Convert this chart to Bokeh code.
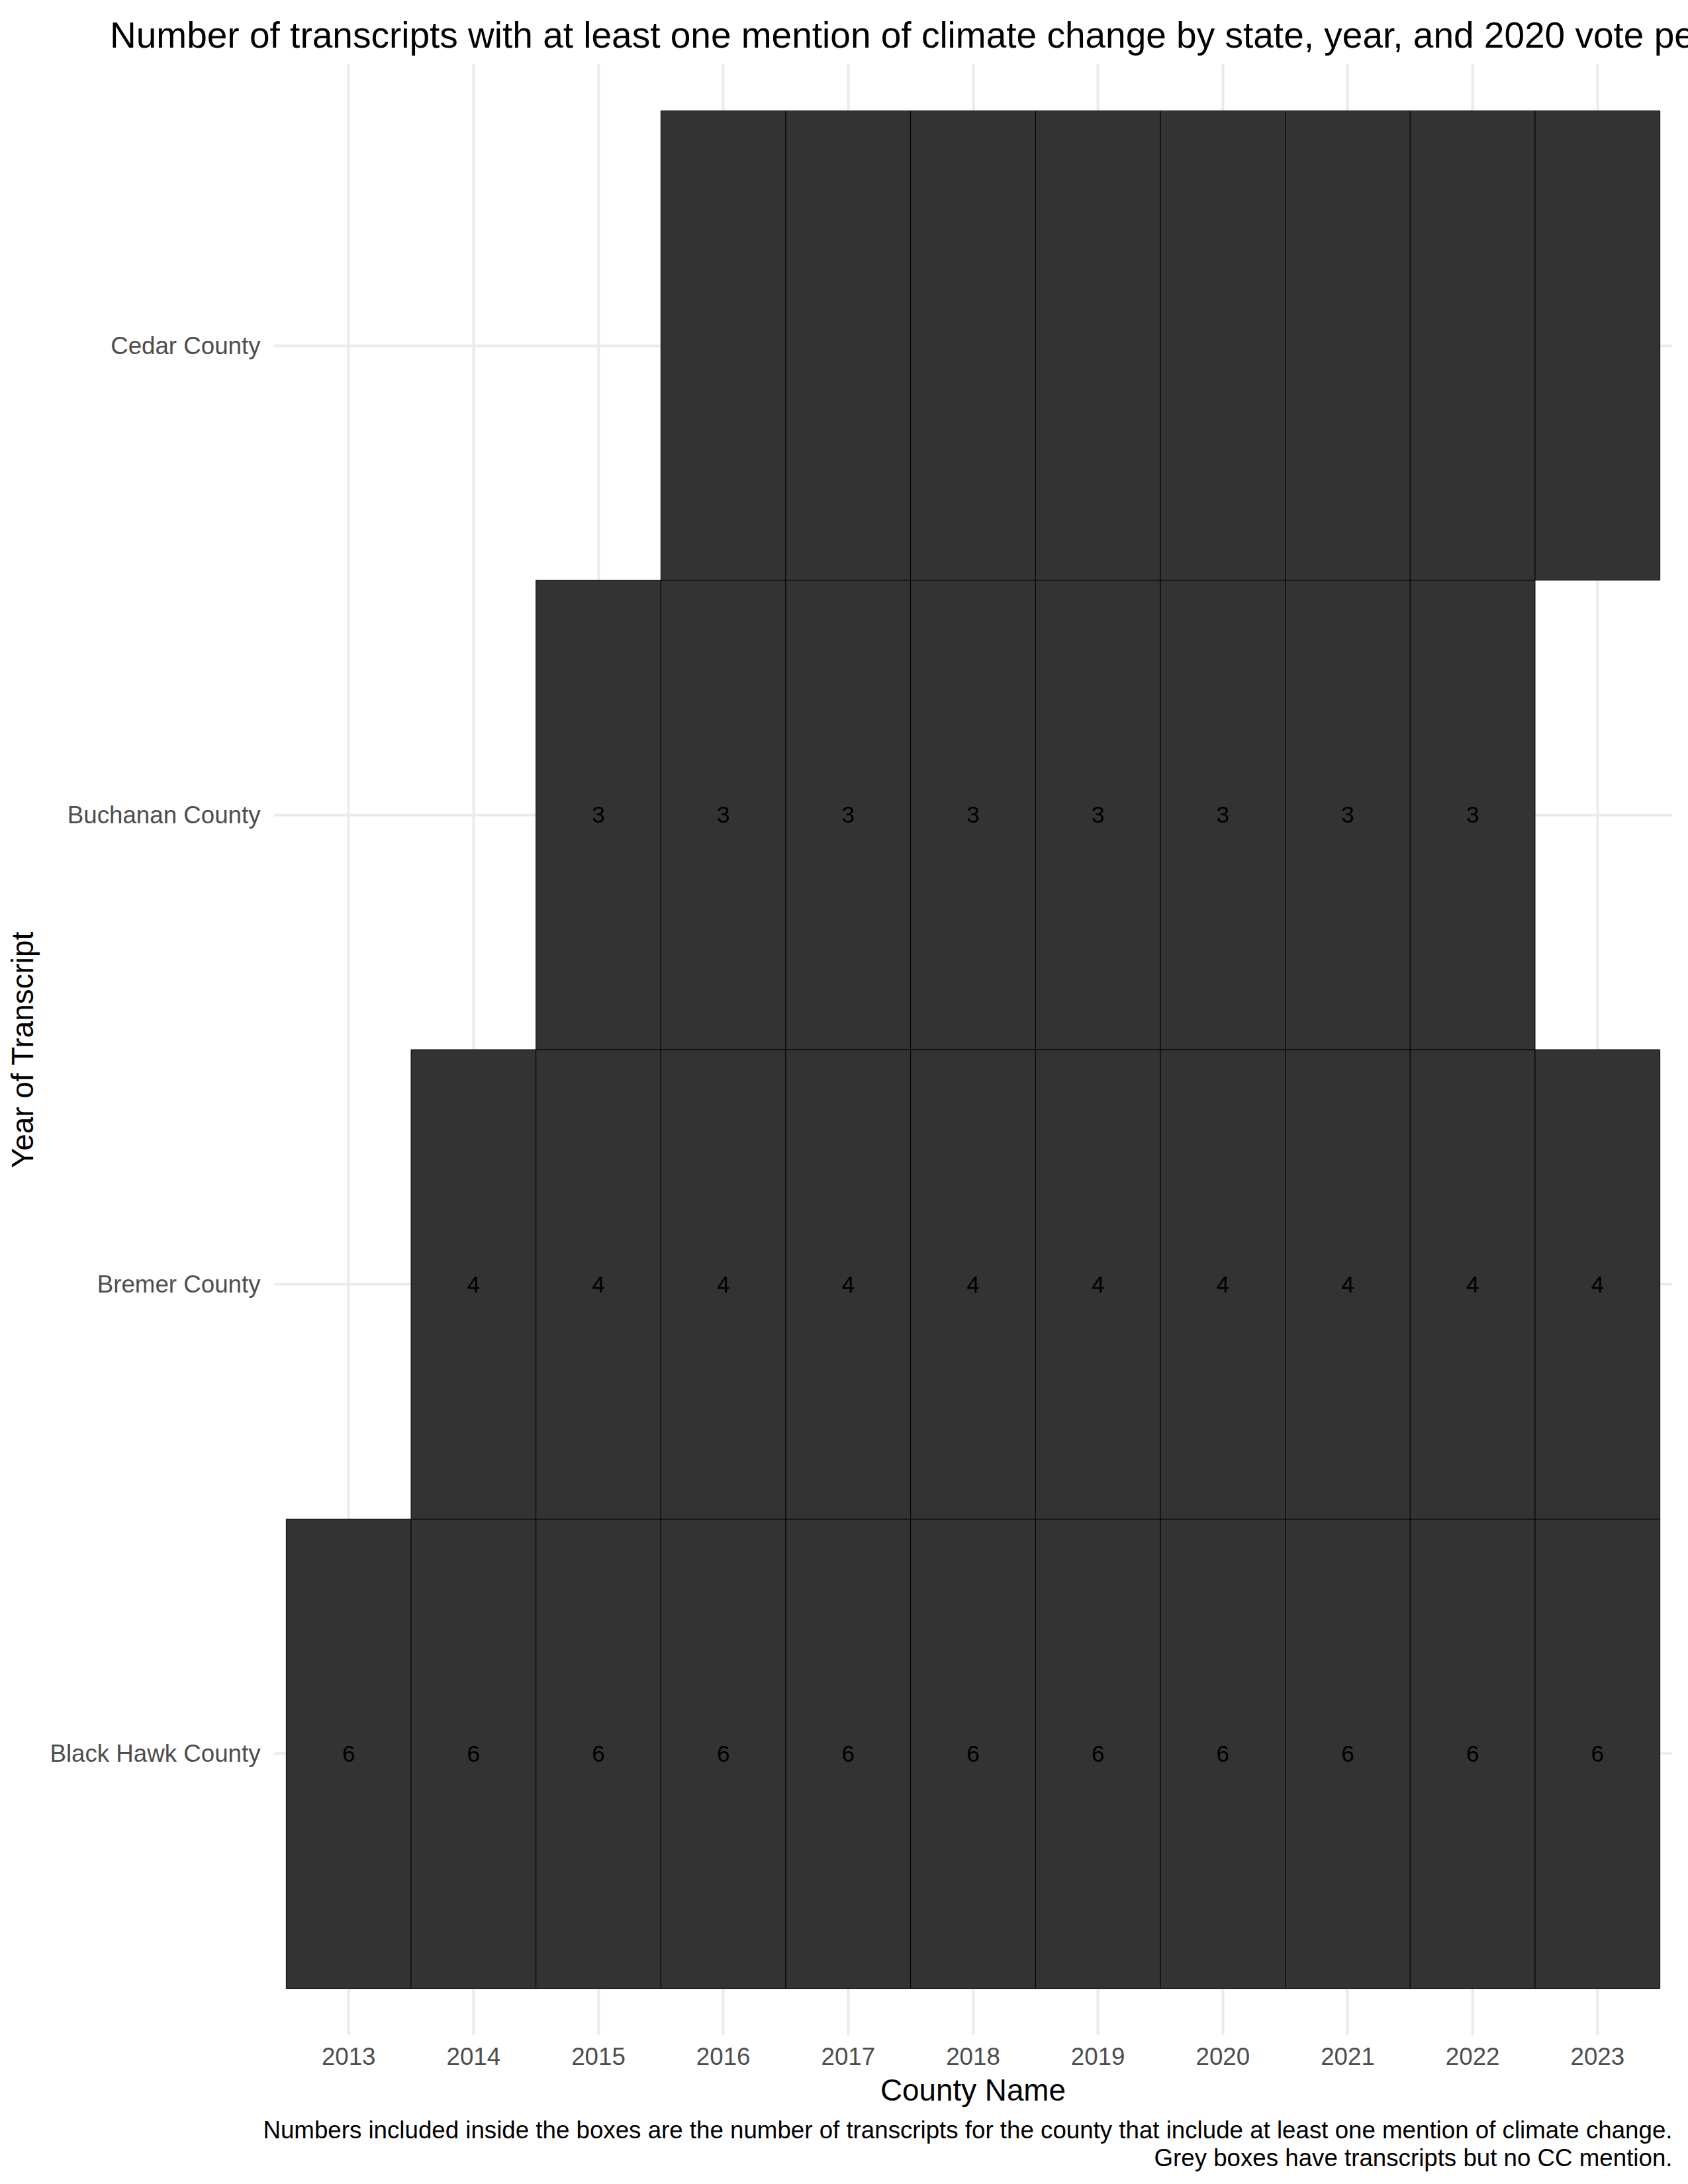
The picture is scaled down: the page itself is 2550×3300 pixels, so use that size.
from bokeh.plotting import figure
from bokeh.models import Range1d, FactorRange, FixedTicker, ColumnDataSource, Title
from bokeh.core.properties import value
from bokeh.embed import file_html
from bokeh.resources import INLINE

# ---- data ----
counties = ["Black Hawk County", "Bremer County", "Buchanan County", "Cedar County"]
years = [2013, 2014, 2015, 2016, 2017, 2018, 2019, 2020, 2021, 2022, 2023]

black_hawk_years = [2013, 2014, 2015, 2016, 2017, 2018, 2019, 2020, 2021, 2022, 2023]
black_hawk_counts = [6, 6, 6, 6, 6, 6, 6, 6, 6, 6, 6]

bremer_years = [2014, 2015, 2016, 2017, 2018, 2019, 2020, 2021, 2022, 2023]
bremer_counts = [4, 4, 4, 4, 4, 4, 4, 4, 4, 4]

buchanan_years = [2015, 2016, 2017, 2018, 2019, 2020, 2021, 2022]
buchanan_counts = [3, 3, 3, 3, 3, 3, 3, 3]

cedar_years = [2016, 2017, 2018, 2019, 2020, 2021, 2022, 2023]
cedar_counts = [None, None, None, None, None, None, None, None]  # transcripts, no CC mention

title_text = ("Number of transcripts with at least one mention of climate change "
              "by state, year, and 2020 vote percentage")
caption_1 = ("Numbers included inside the boxes are the number of transcripts for the "
             "county that include at least one mention of climate change.")
caption_2 = "Grey boxes have transcripts but no CC mention."

# ---- build table ----
xs, ys, labels = [], [], []
for name, yrs, cnts in [("Black Hawk County", black_hawk_years, black_hawk_counts),
                        ("Bremer County", bremer_years, bremer_counts),
                        ("Buchanan County", buchanan_years, buchanan_counts),
                        ("Cedar County", cedar_years, cedar_counts)]:
    for yr, c in zip(yrs, cnts):
        xs.append(yr)
        ys.append(name)
        labels.append("" if c is None else str(c))
src = ColumnDataSource(dict(x=xs, y=ys, label=labels))

FONT = "Liberation Sans"

p = figure(width=2550, height=3300,
           x_range=Range1d(2012.4, 2023.6),
           y_range=FactorRange(factors=counties, range_padding=0.05),
           output_backend="svg", toolbar_location=None,
           min_border_left=413, min_border_right=24,
           min_border_top=96, min_border_bottom=225)

p.title.text = title_text
p.title.align = "center"
p.title.text_font = FONT
p.title.text_font_size = "55px"
p.title.text_font_style = "normal"
p.title.text_color = "black"
p.title.standoff = 26

p.background_fill_color = "white"
p.border_fill_color = "white"
p.outline_line_color = None

p.rect(x="x", y="y", width=1, height=1, source=src,
       fill_color="#333333", line_color="black", line_width=1)
p.text(x="x", y="y", text="label", source=src,
       text_align="center", text_baseline="middle",
       text_font_size="35px", text_color="black", text_font=value(FONT))

# grids
p.xgrid.ticker = FixedTicker(ticks=years)
for g in (p.xgrid, p.ygrid):
    g.grid_line_color = "#EBEBEB"
    g.grid_line_width = 4
    g.level = "underlay"

# axes
p.xaxis.ticker = FixedTicker(ticks=years)
for ax in (p.xaxis, p.yaxis):
    ax.axis_line_color = None
    ax.major_tick_line_color = None
    ax.minor_tick_line_color = None
    ax.major_label_text_font = FONT
    ax.major_label_text_font_size = "36.7px"
    ax.major_label_text_color = "#4D4D4D"
    ax.axis_label_text_font = FONT
    ax.axis_label_text_font_size = "45.8px"
    ax.axis_label_text_font_style = "normal"
    ax.axis_label_text_color = "black"

p.xaxis.axis_label = "County Name"
p.xaxis.major_label_standoff = 12
p.xaxis.axis_label_standoff = 10
p.yaxis.axis_label = "Year of Transcript"
p.yaxis.major_label_standoff = 14
p.yaxis.axis_label_standoff = 12

for txt, so in ((caption_1, 18), (caption_2, -20)):
    t = Title(text=txt, align="right", text_font=FONT, text_font_size="36.7px",
              text_font_style="normal", text_color="black", standoff=so)
    p.add_layout(t, "below")

open("out.html", "w").write(file_html(p, INLINE))
